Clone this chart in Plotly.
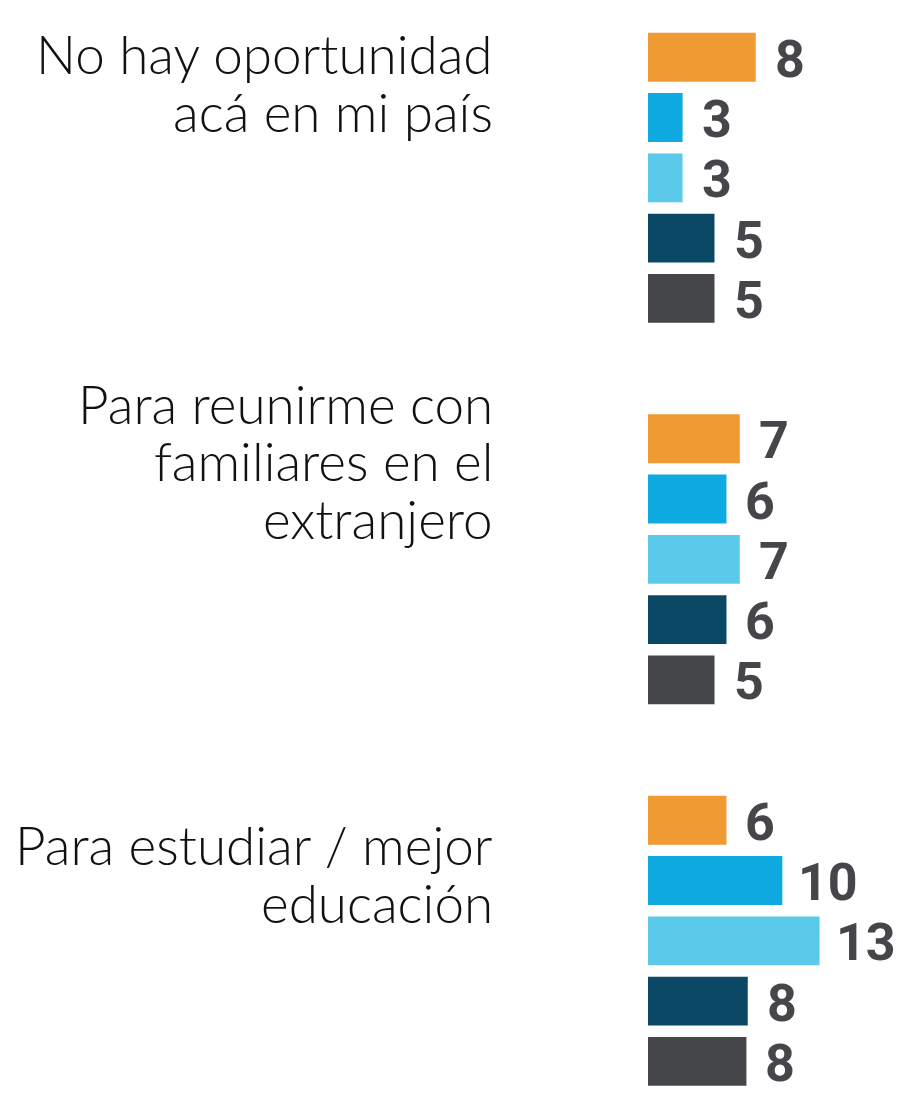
import plotly.graph_objects as go

# ---------------- data ----------------
categories = ["No hay oportunidad acá en mi país",
              "Para reunirme con familiares en el extranjero",
              "Para estudiar / mejor educación"]
category_lines = [["No hay oportunidad", "acá en mi país"],
                  ["Para reunirme con", "familiares en el", "extranjero"],
                  ["Para estudiar / mejor", "educación"]]

series_names = ["Serie 1", "Serie 2", "Serie 3", "Serie 4", "Serie 5"]
serie_1 = [8.1, 6.9, 5.9]
serie_2 = [2.6, 5.9, 10.1]
serie_3 = [2.6, 6.9, 12.9]
serie_4 = [5.0, 5.9, 7.5]
serie_5 = [5.0, 5.0, 7.4]

labels_1 = ["8", "7", "6"]
labels_2 = ["3", "6", "10"]
labels_3 = ["3", "7", "13"]
labels_4 = ["5", "6", "8"]
labels_5 = ["5", "5", "8"]

series_values = [serie_1, serie_2, serie_3, serie_4, serie_5]
series_labels = [labels_1, labels_2, labels_3, labels_4, labels_5]
colors = ["#EF9A32", "#0FAAE1", "#5BCAEA", "#0B4866", "#454649"]

# ---------------- layout constants ----------------
W, H = 897, 1102
BARGAP = 0.21
BARGROUPGAP = 0.19
n_series = len(series_values)
slot = (1 - BARGAP) / n_series
x_px_per_unit = 13.3
x_zero_px = 648
cat_pitch_px = 381.5
first_cat_px = 177.8
label_right_px = 495

fig = go.Figure()
for name, vals, col in zip(series_names, series_values, colors):
    fig.add_trace(go.Bar(
        y=list(range(len(categories))), x=vals, name=name, orientation="h",
        marker=dict(color=col, line=dict(width=0)), hoverinfo="skip",
    ))

annotations = []
# value labels
for i, (vals, labs) in enumerate(zip(series_values, series_labels)):
    for c, (v, lab) in enumerate(zip(vals, labs)):
        annotations.append(dict(
            x=v, y=c + (i - (n_series - 1) / 2) * slot, xref="x", yref="y",
            text=f"<b>{lab}</b>", showarrow=False, xanchor="left", yanchor="middle",
            xshift=18 if len(lab) == 1 else 15, yshift=-2, borderpad=0,
            font=dict(family="Roboto", size=52, color="#454649"),
        ))

# category labels (right aligned, one annotation per line)
first_line_offsets_px = [-124, -156, -96]
line_pitch_px = 57.5
for c, lines in enumerate(category_lines):
    for k, line in enumerate(lines):
        annotations.append(dict(
            x=label_right_px / W, xref="paper", y=c, yref="y",
            text=line, showarrow=False, xanchor="right", yanchor="middle",
            yshift=-(first_line_offsets_px[c] + k * line_pitch_px),
            font=dict(family="Lato", size=53, color="#111111", weight=300),
        ))

y_top = -first_cat_px / cat_pitch_px
y_bot = (H - first_cat_px) / cat_pitch_px
x_min = -x_zero_px / x_px_per_unit
x_max = (W - x_zero_px) / x_px_per_unit

fig.update_layout(
    width=W, height=H,
    margin=dict(l=0, r=0, t=0, b=0),
    paper_bgcolor="white", plot_bgcolor="white",
    barmode="group", bargap=BARGAP, bargroupgap=BARGROUPGAP,
    showlegend=False,
    xaxis=dict(range=[x_min, x_max], visible=False, fixedrange=True),
    yaxis=dict(range=[y_bot, y_top], visible=False, fixedrange=True),
    annotations=annotations,
)

fig.write_html(
    "out.html",
    config={"displayModeBar": False},
    post_script="document.body.style.margin='0';document.body.style.overflow='hidden';",
)
